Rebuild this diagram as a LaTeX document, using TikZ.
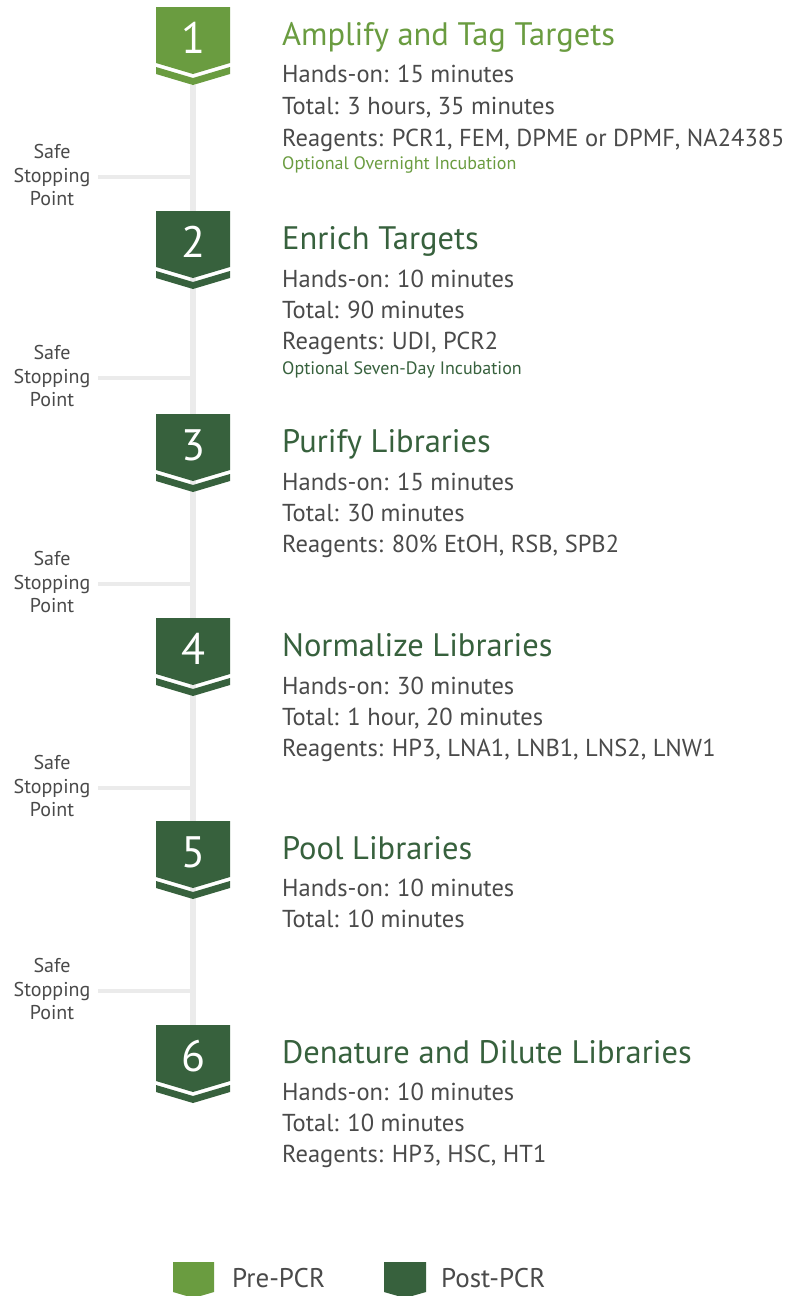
\documentclass[tikz,border=0pt]{standalone}
\usepackage{fontspec}
\setmainfont{PT Sans}
\definecolor{preg}{HTML}{6A9C40}
\definecolor{postg}{HTML}{37613D}
\definecolor{txt}{HTML}{4A4A4A}
\definecolor{rail}{HTML}{EBEBEB}
\begin{document}
\begin{tikzpicture}[x=1pt,y=-1pt,
  title/.style={anchor=base west,inner sep=0pt,font=\fontsize{32.5}{38}\selectfont},
  body/.style={anchor=base west,inner sep=0pt,text=txt,font=\fontsize{24.5}{29}\selectfont},
  opt/.style={anchor=base west,inner sep=0pt,font=\fontsize{18}{21}\selectfont},
  num/.style={inner sep=0pt,text=white,font=\fontsize{44}{50}\selectfont},
  safe/.style={align=center,inner sep=0pt,text=txt,font=\fontsize{20}{23.5}\selectfont},
  legend/.style={anchor=base west,inner sep=0pt,text=txt,font=\fontsize{27}{32}\selectfont},
  railline/.style={draw=rail,line width=6pt},
  tick/.style={draw=rail,line width=4pt}]
\useasboundingbox (0,0) rectangle (791,1296);
\fill[white] (0,0) rectangle (791,1296);
% chevron macro: name, top y, colour, digit
\newcommand{\chev}[4]{%
  \fill[#3] (156,#2) -- (230,#2) -- (230,#2+56) -- (193,#2+67) -- (156,#2+56) -- cycle;
  \fill[#3] (156,#2+60) -- (193,#2+71) -- (230,#2+60) -- (230,#2+67) -- (193,#2+78) -- (156,#2+67) -- cycle;
  \node[num] (#1) at (193,#2+31) {#4};
}
% rail
\coordinate (railtop) at (193,85);
\coordinate (railbot) at (193,1025);
\draw[railline] (railtop) -- (railbot);
% steps
\chev{s1}{7}{preg}{1}
\chev{s2}{211}{postg}{2}
\chev{s3}{414}{postg}{3}
\chev{s4}{618}{postg}{4}
\chev{s5}{821}{postg}{5}
\chev{s6}{1025}{postg}{6}
% safe stopping points
\foreach \i/\y in {1/177,2/378,3/584,4/788,5/991}{
  \coordinate (sp\i) at (193,\y);
  \coordinate (sq\i) at (98,\y);
  \draw[tick] (sq\i) -- (sp\i);
  \node[safe] (st\i) at (52,\y-2) {Safe\\Stopping\\Point};
}
% step texts
\node[title,text=preg] (t1) at (282,45) {Amplify and Tag Targets};
\node[body] (h1) at (282,82) {Hands-on: 15 minutes};
\node[body] (o1) at (282,114) {Total: 3 hours, 35 minutes};
\node[body] (r1) at (282,146) {Reagents: PCR1, FEM, DPME or DPMF, NA24385};
\node[opt,text=preg] (p1) at (282,169) {Optional Overnight Incubation};

\node[title,text=postg] (t2) at (282,249) {Enrich Targets};
\node[body] (h2) at (282,287) {Hands-on: 10 minutes};
\node[body] (o2) at (282,318) {Total: 90 minutes};
\node[body] (r2) at (282,349) {Reagents: UDI, PCR2};
\node[opt,text=postg] (p2) at (282,374) {Optional Seven-Day Incubation};

\node[title,text=postg] (t3) at (282,452) {Purify Libraries};
\node[body] (h3) at (282,490) {Hands-on: 15 minutes};
\node[body] (o3) at (282,521) {Total: 30 minutes};
\node[body] (r3) at (282,552) {Reagents: 80\% EtOH, RSB, SPB2};

\node[title,text=postg] (t4) at (282,656) {Normalize Libraries};
\node[body] (h4) at (282,694) {Hands-on: 30 minutes};
\node[body] (o4) at (282,725) {Total: 1 hour, 20 minutes};
\node[body] (r4) at (282,756) {Reagents: HP3, LNA1, LNB1, LNS2, LNW1};

\node[title,text=postg] (t5) at (282,859) {Pool Libraries};
\node[body] (h5) at (282,896) {Hands-on: 10 minutes};
\node[body] (o5) at (282,927) {Total: 10 minutes};

\node[title,text=postg] (t6) at (282,1063) {Denature and Dilute Libraries};
\node[body] (h6) at (282,1100) {Hands-on: 10 minutes};
\node[body] (o6) at (282,1131) {Total: 10 minutes};
\node[body] (r6) at (282,1162) {Reagents: HP3, HSC, HT1};
% legend
\fill[preg] (173,1262) -- (214,1262) -- (214,1292) -- (193.5,1298) -- (173,1292) -- cycle;
\node[legend] (lpre) at (232,1287) {Pre-PCR};
\fill[postg] (384,1262) -- (426,1262) -- (426,1292) -- (405,1298) -- (384,1292) -- cycle;
\node[legend] (lpost) at (441,1287) {Post-PCR};
\end{tikzpicture}
\end{document}
